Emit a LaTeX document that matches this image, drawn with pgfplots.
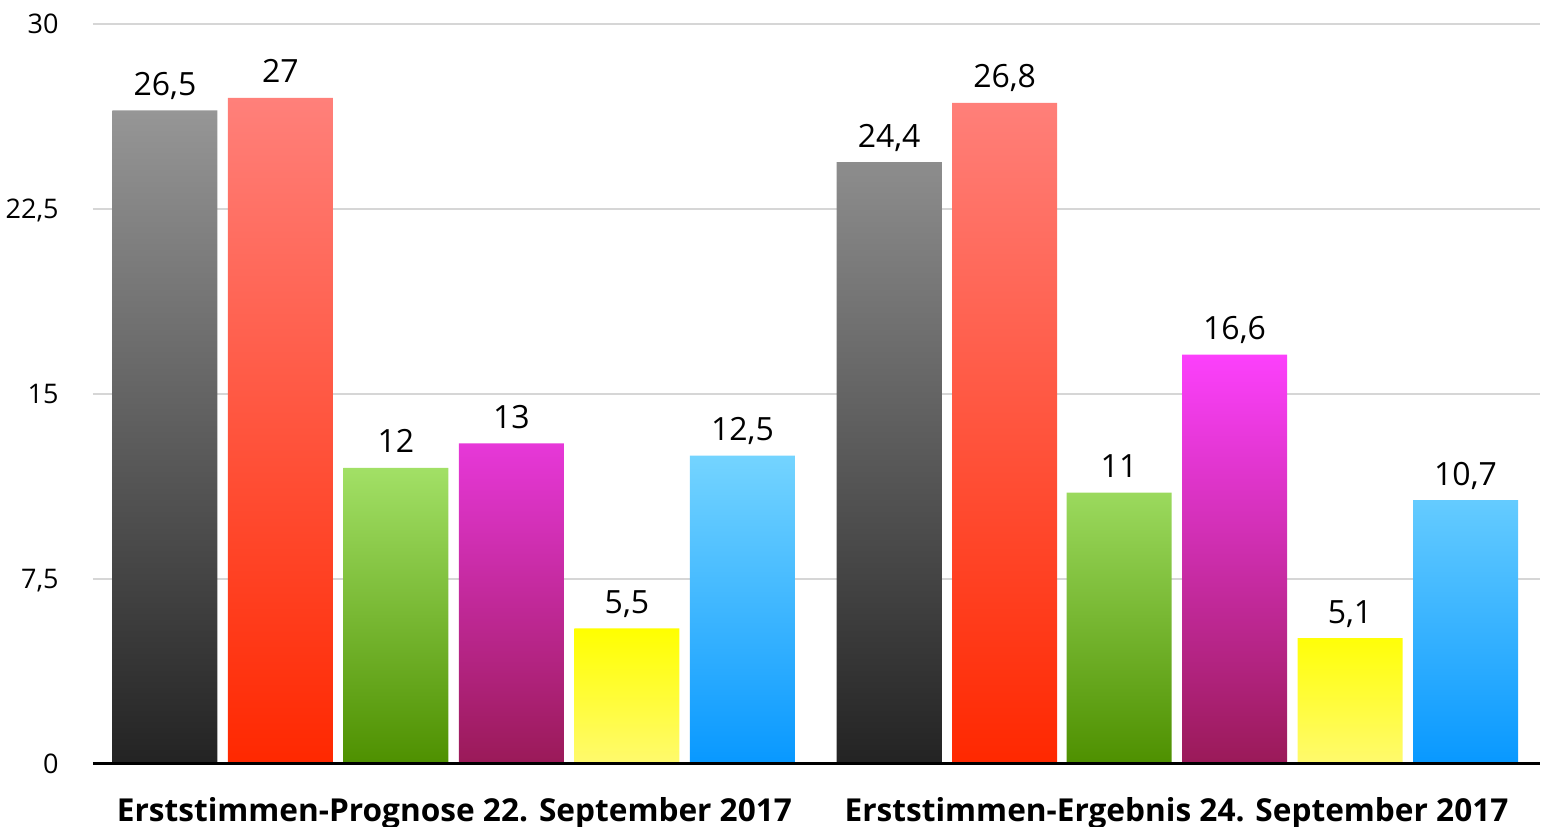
\documentclass[border=0pt]{standalone}
\usepackage{fontspec}
\setmainfont{Open Sans}
\usepackage{pgfplots}
\pgfplotsset{compat=1.18}

% bar gradients: top / bottom
\definecolor{grayT}{HTML}{969696}
\definecolor{grayB}{HTML}{232323}
\definecolor{redT}{HTML}{FF807A}
\definecolor{redB}{HTML}{FF2800}
\definecolor{greenT}{HTML}{A2E066}
\definecolor{greenB}{HTML}{4E9000}
\definecolor{magT}{HTML}{FC40FC}
\definecolor{magB}{HTML}{9A1A58}
\definecolor{yelT}{HTML}{FFFF00}
\definecolor{yelB}{HTML}{FFFA6E}
\definecolor{bluT}{HTML}{74D4FF}
\definecolor{bluB}{HTML}{0898FF}
\definecolor{gridgray}{HTML}{D6D6D6}

\begin{document}
\begin{tikzpicture}
  \begin{axis}[
    scale only axis,
    width=723.5pt, height=370pt,
    xmin=-0.623, xmax=11.905,
    ymin=0, ymax=30,
    ytick={0,7.5,15,22.5,30},
    xtick={2.506,8.758},
    xticklabels={Erststimmen-Prognose 22. September 2017,
                 Erststimmen-Ergebnis 24. September 2017},
    /pgf/number format/use comma,
    /pgf/number format/assume math mode=true,
    axis line style={draw=none},
    major tick length=0pt,
    ymajorgrids,
    grid style={gridgray, line width=0.6pt},
    yticklabel style={anchor=base east, inner sep=0pt, xshift=-17pt,
                      yshift=-0.36em-1pt, font=\fontsize{13.5}{16}\selectfont},
    xticklabel style={anchor=base, inner sep=0pt, yshift=-29pt,
                      font=\fontsize{15.8}{19}\selectfont\bfseries},
    nodes near coords={\pgfmathprintnumber[use comma]{\pgfplotspointmeta}},
    every node near coord/.append style={text=black, anchor=base,
                      inner sep=0pt, yshift=7.5pt,
                      font=\fontsize{16}{19}\selectfont},
    clip=false,
  ]
    \addplot[ybar, bar width=0.909, draw=none, top color=grayT, bottom color=grayB]
      coordinates {(0,26.5) (6.27,24.4)};
    \addplot[ybar, bar width=0.909, draw=none, top color=redT, bottom color=redB]
      coordinates {(1,27) (7.27,26.8)};
    \addplot[ybar, bar width=0.909, draw=none, top color=greenT, bottom color=greenB]
      coordinates {(2,12) (8.26,11)};
    \addplot[ybar, bar width=0.909, draw=none, top color=magT, bottom color=magB]
      coordinates {(3,13) (9.26,16.6)};
    \addplot[ybar, bar width=0.909, draw=none, top color=yelT, bottom color=yelB]
      coordinates {(4,5.5) (10.26,5.1)};
    \addplot[ybar, bar width=0.909, draw=none, top color=bluT, bottom color=bluB]
      coordinates {(5,12.5) (11.26,10.7)};

    \draw[black, line width=1.5pt] (rel axis cs:0,0) -- (rel axis cs:1,0);
    \coordinate (bl) at (rel axis cs:0,0);
    \coordinate (tr) at (rel axis cs:1,1);
  \end{axis}
  \pgfresetboundingbox
  \path ([shift={(-46.5pt,-31.5pt)}]bl) rectangle ([shift={(3.5pt,12pt)}]tr);
\end{tikzpicture}
\end{document}
